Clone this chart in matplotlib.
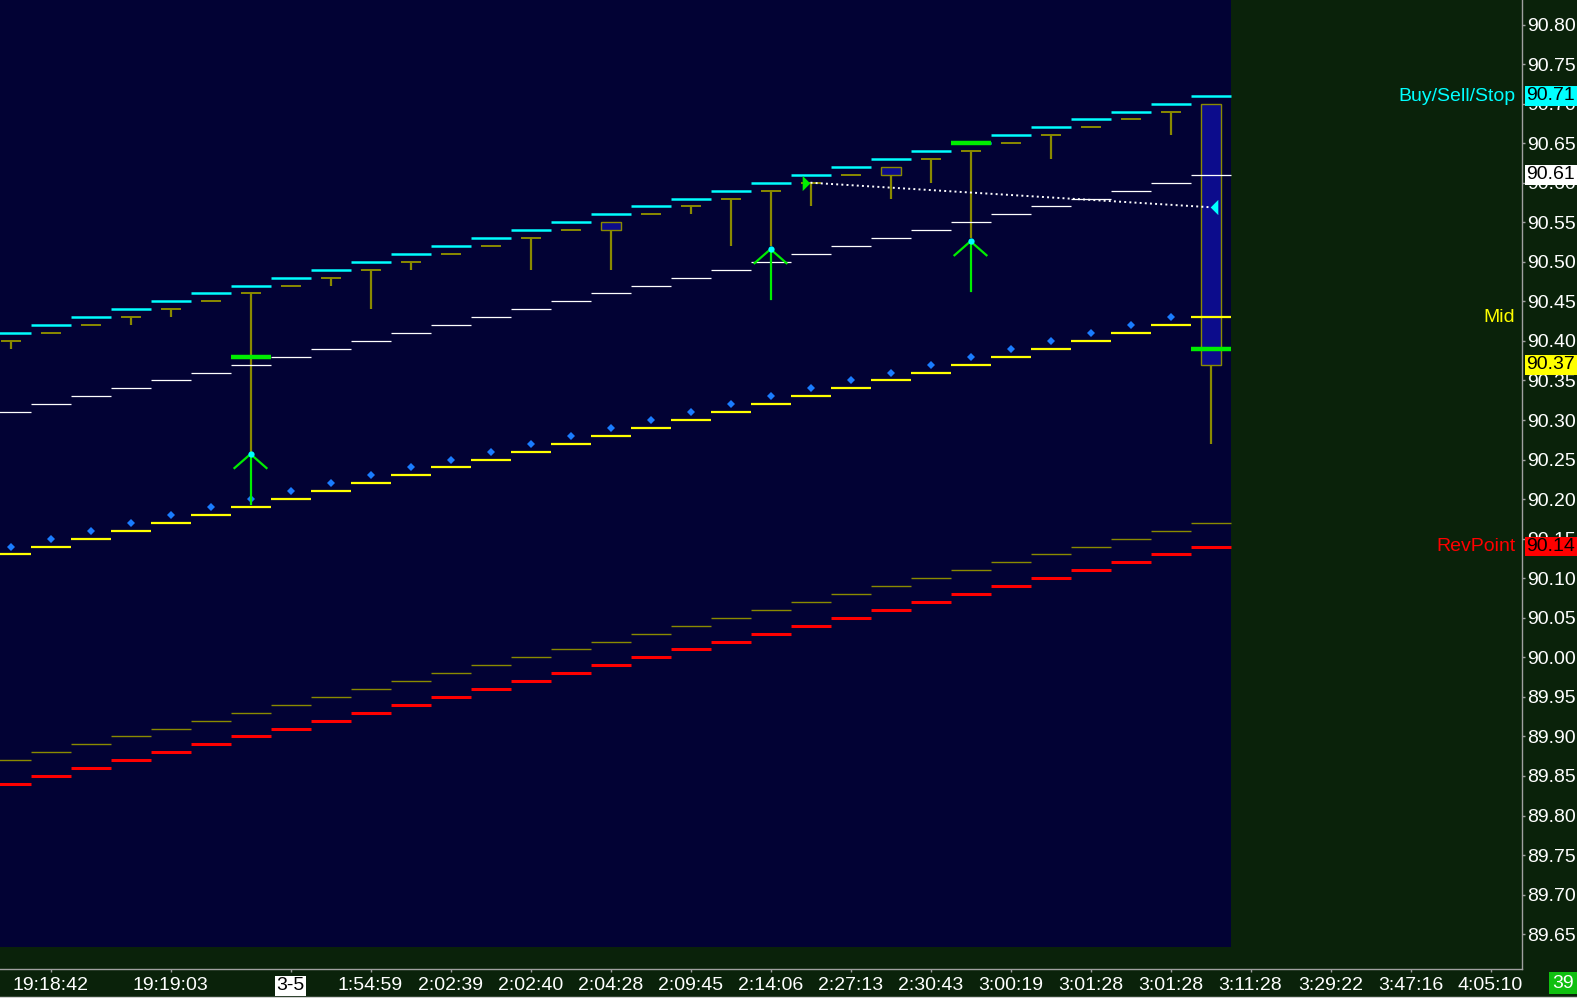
"""
    Grafico intraday a barre con bande di stop, mid e reversal point
"""

# Librerie
import matplotlib
matplotlib.use("Agg")
from matplotlib import pyplot as plt
from matplotlib.patches import Rectangle
from matplotlib.lines import Line2D
from matplotlib.transforms import blended_transform_factory

# Candele (open, high, low, close)
opens = [90.40, 90.41, 90.42, 90.43, 90.44, 90.45, 90.46, 90.47, 90.48, 90.49,
         90.50, 90.51, 90.52, 90.53, 90.54, 90.55, 90.56, 90.57, 90.58, 90.59,
         90.60, 90.61, 90.62, 90.63, 90.64, 90.65, 90.66, 90.67, 90.68, 90.69, 90.70]
highs = [90.40, 90.41, 90.42, 90.43, 90.44, 90.45, 90.46, 90.47, 90.48, 90.49,
         90.50, 90.51, 90.52, 90.53, 90.54, 90.55, 90.56, 90.57, 90.58, 90.59,
         90.60, 90.61, 90.62, 90.63, 90.64, 90.65, 90.66, 90.67, 90.68, 90.69, 90.70]
lows = [90.39, 90.41, 90.42, 90.42, 90.43, 90.45, 90.26, 90.47, 90.47, 90.44,
        90.49, 90.51, 90.52, 90.49, 90.54, 90.49, 90.56, 90.56, 90.52, 90.52,
        90.57, 90.61, 90.58, 90.60, 90.53, 90.65, 90.63, 90.67, 90.68, 90.66, 90.27]
closes = [90.40, 90.41, 90.42, 90.43, 90.44, 90.45, 90.46, 90.47, 90.48, 90.49,
          90.50, 90.51, 90.52, 90.53, 90.54, 90.54, 90.56, 90.57, 90.58, 90.59,
          90.60, 90.61, 90.61, 90.63, 90.64, 90.65, 90.66, 90.67, 90.68, 90.69, 90.37]

# Bande
stop_band = [90.41, 90.42, 90.43, 90.44, 90.45, 90.46, 90.47, 90.48, 90.49, 90.50,
             90.51, 90.52, 90.53, 90.54, 90.55, 90.56, 90.57, 90.58, 90.59, 90.60,
             90.61, 90.62, 90.63, 90.64, 90.65, 90.66, 90.67, 90.68, 90.69, 90.70, 90.71]
upper_band = [90.31, 90.32, 90.33, 90.34, 90.35, 90.36, 90.37, 90.38, 90.39, 90.40,
              90.41, 90.42, 90.43, 90.44, 90.45, 90.46, 90.47, 90.48, 90.49, 90.50,
              90.51, 90.52, 90.53, 90.54, 90.55, 90.56, 90.57, 90.58, 90.59, 90.60, 90.61]
mid_band = [90.13, 90.14, 90.15, 90.16, 90.17, 90.18, 90.19, 90.20, 90.21, 90.22,
            90.23, 90.24, 90.25, 90.26, 90.27, 90.28, 90.29, 90.30, 90.31, 90.32,
            90.33, 90.34, 90.35, 90.36, 90.37, 90.38, 90.39, 90.40, 90.41, 90.42, 90.43]
mid_dots = [90.14, 90.15, 90.16, 90.17, 90.18, 90.19, 90.20, 90.21, 90.22, 90.23,
            90.24, 90.25, 90.26, 90.27, 90.28, 90.29, 90.30, 90.31, 90.32, 90.33,
            90.34, 90.35, 90.36, 90.37, 90.38, 90.39, 90.40, 90.41, 90.42, 90.43]
lower_band = [89.87, 89.88, 89.89, 89.90, 89.91, 89.92, 89.93, 89.94, 89.95, 89.96,
              89.97, 89.98, 89.99, 90.00, 90.01, 90.02, 90.03, 90.04, 90.05, 90.06,
              90.07, 90.08, 90.09, 90.10, 90.11, 90.12, 90.13, 90.14, 90.15, 90.16, 90.17]
rev_point = [89.84, 89.85, 89.86, 89.87, 89.88, 89.89, 89.90, 89.91, 89.92, 89.93,
             89.94, 89.95, 89.96, 89.97, 89.98, 89.99, 90.00, 90.01, 90.02, 90.03,
             90.04, 90.05, 90.06, 90.07, 90.08, 90.09, 90.10, 90.11, 90.12, 90.13, 90.14]

# Segnali
signal_bars = [6, 24, 30]
signal_levels = [90.38, 90.65, 90.39]
arrow_bars = [6, 19, 24]
arrow_tips = [90.257, 90.516, 90.526]
trend_bars = [20, 30]
trend_levels = [90.60, 90.569]

# Asse dei tempi
time_pos = [1, 4, 7, 9, 11, 13, 15, 17, 19, 21, 23, 25, 27, 29, 31, 33, 35, 37]
time_labels = ["19:18:42", "19:19:03", "3-5", "1:54:59", "2:02:39", "2:02:40",
               "2:04:28", "2:09:45", "2:14:06", "2:27:13", "2:30:43", "3:00:19",
               "3:01:28", "3:01:28", "3:11:28", "3:29:22", "3:47:16", "4:05:10"]
price_ticks = [89.65, 89.70, 89.75, 89.80, 89.85, 89.90, 89.95, 90.00, 90.05, 90.10, 90.15, 90.20,
               90.25, 90.30, 90.35, 90.40, 90.45, 90.50, 90.55, 90.60, 90.65, 90.70, 90.75, 90.80]

# Etichette a destra
tag_values = [90.71, 90.61, 90.37, 90.14]
tag_colors = ["#00ffff", "#ffffff", "#ffff00", "#ff0000"]
name_labels = ["Buy/Sell/Stop", "Mid", "RevPoint"]
name_levels = [90.709, 90.43, 90.14]
name_colors = ["#00ffff", "#ffff00", "#ff0000"]
bar_count = "39"


def main():

    plt.rcParams["font.family"] = ["Liberation Sans", "DejaVu Sans"]

    navy = "#020234"
    green_bg = "#0a220a"
    olive = "#8a8a00"
    fs = 14

    fig = plt.figure(figsize=(15.77, 9.98), dpi=100, facecolor=green_bg)
    ax = fig.add_axes([0, 28.7 / 998, 1521.5 / 1577, 1 - 28.7 / 998])
    ax.set_facecolor(green_bg)
    ax.set_xlim(-0.2625, 37.775)
    ax.set_ylim(89.6056, 90.831)

    n = len(closes)
    bars = list(range(n))

    # Zona dati blu
    ax.axvspan(-0.5, n - 0.5, ymin=0.0233, ymax=1, color=navy, zorder=0, lw=0)

    # Bande a gradini
    left = [b - 0.5 for b in bars]
    right = [b + 0.5 for b in bars]
    ax.hlines(lower_band, left, right, color=olive, lw=1.0, zorder=2)
    ax.hlines(rev_point, left, right, color="#ff0000", lw=2.2, zorder=4)
    ax.hlines(mid_band, left, right, color="#ffff00", lw=1.6, zorder=4)
    ax.hlines(upper_band, left, right, color="#ffffff", lw=0.9, zorder=4)
    ax.hlines(stop_band, left, right, color="#00ffff", lw=1.8, zorder=4)
    ax.plot(bars[:len(mid_dots)], mid_dots, "D", color="#1a7cff", ms=4.4, mew=0, zorder=5)

    # Candele
    for b in bars:
        ax.vlines(b, lows[b], highs[b], color=olive, lw=1.6, zorder=3)
        if opens[b] == closes[b]:
            ax.hlines(closes[b], b - 0.25, b + 0.25, color=olive, lw=1.4, zorder=3)
        else:
            lo = min(opens[b], closes[b])
            ax.add_patch(Rectangle((b - 0.25, lo), 0.5, abs(opens[b] - closes[b]),
                                   facecolor="#0c0c8c", edgecolor=olive, lw=1.0, zorder=3))

    # Segnali verdi
    for b, lvl in zip(signal_bars, signal_levels):
        ax.hlines(lvl, b - 0.5, b + 0.5, color="#00ee00", lw=3.2, zorder=5)

    for b, tip in zip(arrow_bars, arrow_tips):
        ax.plot([b, b], [tip, tip - 0.063], color="#00ee00", lw=1.6, zorder=6)
        ax.plot([b - 0.4, b, b + 0.4], [tip - 0.0177, tip, tip - 0.0177],
                color="#00ee00", lw=1.6, zorder=6)
        ax.plot(b, tip, "o", color="#00ffff", ms=4.5, mew=0, zorder=7)

    # Linea di tendenza tratteggiata
    ax.plot(trend_bars, trend_levels, ":", color="#ffffff", lw=1.4, zorder=6)
    tri_right = [(-0.5, 1), (0.5, 0), (-0.5, -1)]
    tri_left = [(0.5, 1), (-0.5, 0), (0.5, -1)]
    ax.plot(trend_bars[0] - 0.11, trend_levels[0], marker=tri_right, color="#00ee00",
            ms=11, mew=0, zorder=7)
    ax.plot(trend_bars[1] + 0.09, trend_levels[1], marker=tri_left, color="#00ffff",
            ms=11, mew=0, zorder=7)

    # Assi
    for side in ["left", "top"]:
        ax.spines[side].set_visible(False)
    for side in ["right", "bottom"]:
        ax.spines[side].set_color("#a0a0a0")
        ax.spines[side].set_linewidth(1.0)
    ax.yaxis.tick_right()
    ax.set_yticks(price_ticks)
    ax.set_yticklabels([f"{t:.2f}" for t in price_ticks])
    ax.set_xticks(time_pos)
    ax.set_xticklabels(time_labels)
    ax.tick_params(axis="y", colors="#a0a0a0", labelcolor="#ffffff", labelsize=fs,
                   length=2.5, width=1, pad=1.2)
    ax.tick_params(axis="x", colors="#a0a0a0", labelcolor="#ffffff", labelsize=fs,
                   length=2.5, width=1, pad=3.2)
    date_label = ax.get_xticklabels()[time_labels.index("3-5")]
    date_label.set_color("#000000")
    date_label.set_bbox(dict(boxstyle="square,pad=0.08", facecolor="#ffffff", edgecolor="none"))

    # Nomi delle bande
    for name, lvl, col in zip(name_labels, name_levels, name_colors):
        ax.text(37.62, lvl, name, color=col, fontsize=fs, ha="right", va="center", zorder=8)

    # Riquadri con i valori correnti
    blend = blended_transform_factory(fig.transFigure, ax.transData)
    for val, col in zip(tag_values, tag_colors):
        ax.add_patch(Rectangle((1524.5 / 1577, val - 0.0125), 1 - 1524.5 / 1577, 0.025,
                               transform=blend, facecolor=col, edgecolor="none",
                               clip_on=False, zorder=9))
        ax.text(1526 / 1577, val, f"{val:.2f}", transform=blend, color="#000000",
                fontsize=fs, ha="left", va="center", clip_on=False, zorder=10)

    # Contatore barre in basso a destra
    fig.patches.append(Rectangle((1549 / 1577, 4 / 998), 28 / 1577, 22 / 998,
                                 transform=fig.transFigure, facecolor="#10c010",
                                 edgecolor="none"))
    fig.text(1563.5 / 1577, 15 / 998, bar_count, color="#ffffff", fontsize=fs,
             ha="center", va="center")
    fig.add_artist(Line2D([0, 1], [1.5 / 998, 1.5 / 998], color="#d0d0d0", lw=1.0,
                          transform=fig.transFigure))

    fig.savefig("out.png", dpi=100, facecolor=green_bg)

    return

if __name__ == "__main__":
    main()
